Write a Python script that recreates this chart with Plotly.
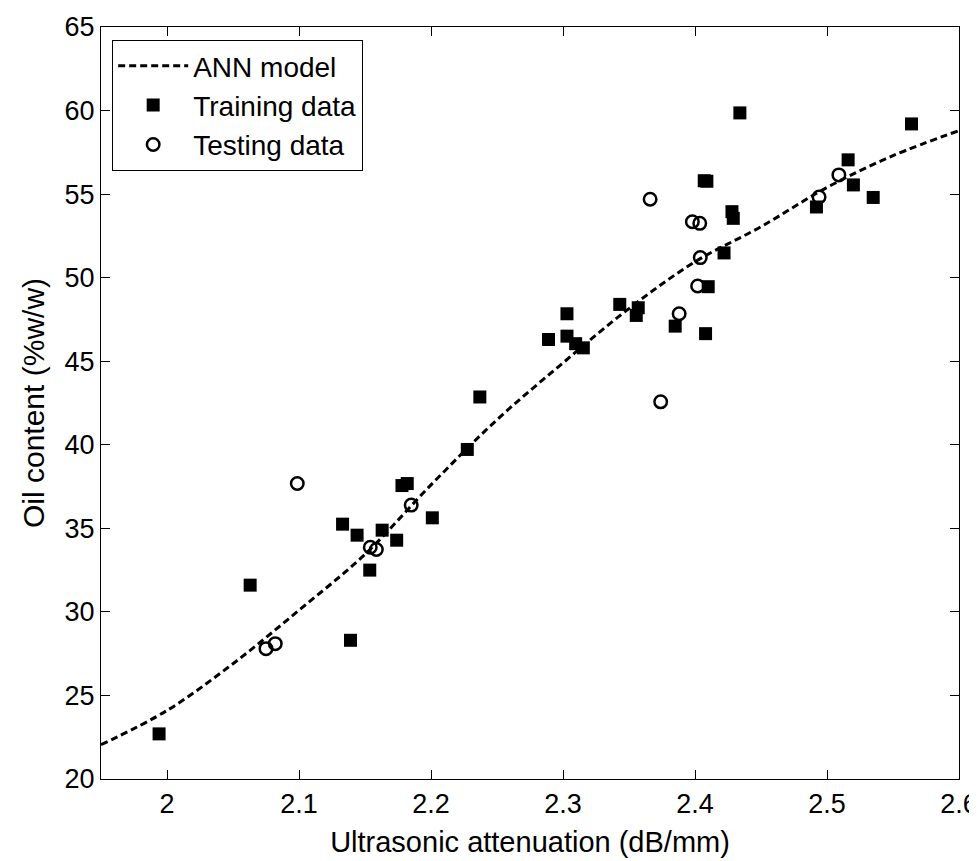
import plotly.graph_objects as go

# ANN model curve
ann_x = [1.95, 2.00, 2.05, 2.10, 2.15, 2.20, 2.25, 2.30, 2.35, 2.40, 2.45, 2.50, 2.55, 2.60]
ann_y = [22.05, 24.1, 26.9, 30.1, 33.45, 37.6, 41.5, 44.9, 48.15, 50.95, 53.05, 55.4, 57.3, 58.8]

# Training data
train_x = [1.994, 2.063, 2.133, 2.139, 2.144, 2.1536, 2.163, 2.174, 2.178, 2.182, 2.201, 2.2275,
           2.237, 2.289, 2.303, 2.303, 2.3096, 2.3154, 2.343, 2.3555, 2.357, 2.385, 2.407, 2.408,
           2.409, 2.410, 2.422, 2.428, 2.429, 2.434, 2.492, 2.516, 2.520, 2.535, 2.564]
train_y = [22.7, 31.6, 35.25, 28.3, 34.59, 32.5, 34.89, 34.29, 37.56, 37.68, 35.63, 39.72,
           42.86, 46.3, 47.84, 46.5, 46.05, 45.8, 48.4, 47.74, 48.2, 47.1, 55.8, 46.65,
           55.77, 49.46, 51.48, 53.95, 53.55, 59.86, 54.23, 57.05, 55.55, 54.8, 59.2]

# Testing data
test_x = [2.075, 2.082, 2.0987, 2.154, 2.1586, 2.185, 2.366, 2.374, 2.388, 2.398, 2.4036,
          2.402, 2.404, 2.494, 2.509]
test_y = [27.8, 28.1, 37.68, 33.87, 33.73, 36.39, 54.69, 42.57, 47.84, 53.35, 53.25,
          49.5, 51.2, 54.83, 56.15]

x_ticks = [2, 2.1, 2.2, 2.3, 2.4, 2.5, 2.6]
x_tick_labels = ["2", "2.1", "2.2", "2.3", "2.4", "2.5", "2.6"]
y_ticks = [20, 25, 30, 35, 40, 45, 50, 55, 60, 65]

FONT = "Liberation Sans, Arial, sans-serif"

fig = go.Figure()
fig.add_trace(go.Scatter(x=ann_x, y=ann_y, mode="lines", name="ANN model",
                         line=dict(color="black", width=3, dash="7px,4px"),
                         line_shape="spline"))
fig.add_trace(go.Scatter(x=train_x, y=train_y, mode="markers", name="Training data",
                         marker=dict(symbol="square", size=13, color="black",
                                     line=dict(width=0))))
fig.add_trace(go.Scatter(x=test_x, y=test_y, mode="markers", name="Testing data",
                         marker=dict(symbol="circle-open", size=12.5, color="black",
                                     line=dict(width=2.5, color="black"))))

axis_common = dict(showgrid=False, zeroline=False, showline=True, linecolor="black",
                   linewidth=1.2, mirror="ticks", ticks="inside", ticklen=9,
                   tickcolor="black", tickwidth=1, automargin=False,
                   tickfont=dict(family=FONT, size=27, color="black"))

fig.update_xaxes(range=[1.95, 2.6], tickvals=x_ticks, ticktext=x_tick_labels,
                 title=dict(text="Ultrasonic attenuation (dB/mm)", standoff=14,
                            font=dict(family=FONT, size=29, color="black")),
                 **axis_common)
fig.update_yaxes(range=[20, 65], tickvals=y_ticks,
                 title=dict(text="Oil content (%w/w)", standoff=10,
                            font=dict(family=FONT, size=30, color="black")),
                 **axis_common)

fig.update_layout(
    template="none",
    width=977, height=861,
    margin=dict(l=93, r=26, t=19, b=90, autoexpand=False),
    plot_bgcolor="white", paper_bgcolor="white",
    showlegend=True,
    legend=dict(x=0.0128, y=0.983, xanchor="left", yanchor="top",
                bgcolor="white", bordercolor="black", borderwidth=1.2,
                font=dict(family=FONT, size=28, color="black"),
                tracegroupgap=0, itemwidth=70),
)

fig.write_html("out.html")
